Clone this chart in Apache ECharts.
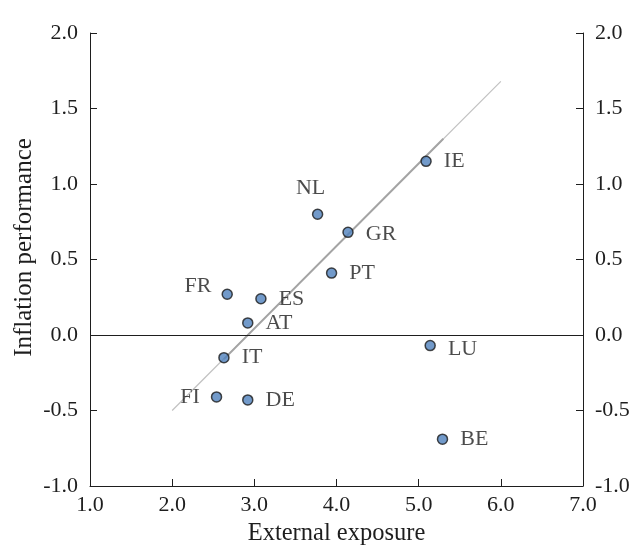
<!DOCTYPE html>
<html>
<head>
<meta charset="utf-8">
<script src="https://cdn.jsdelivr.net/npm/echarts@6/dist/echarts.min.js"></script>
<style>
  html, body { margin: 0; padding: 0; background: #ffffff; }
  #chart { width: 632px; height: 545px; }
</style>
</head>
<body>
<div id="chart"></div>
<script>
// Country codes and their (external exposure, inflation performance) values
const countries = ['NL', 'GR', 'IE', 'PT', 'LU', 'BE', 'FR', 'ES', 'AT', 'IT', 'FI', 'DE'];
const exposure = [3.77, 4.14, 5.09, 3.94, 5.14, 5.29, 2.67, 3.08, 2.92, 2.63, 2.54, 2.92];
const inflation = [0.80, 0.68, 1.15, 0.41, -0.07, -0.69, 0.27, 0.24, 0.08, -0.15, -0.41, -0.43];

// Fitted line: full extent and the emphasised central part
const trendFull = [[2.0, -0.50], [6.0, 1.68]];
const trendCore = [[2.63, -0.16], [5.30, 1.30]];

// Axis settings
const xRange = [1.0, 7.0];
const yRange = [-1.0, 2.0];
const yStep = 0.5;
const xStep = 1.0;

// Where each country's label sits relative to its dot
const labelPlace = {
  NL: { position: 'top', offset: [-7, -1] },
  GR: { position: 'right', offset: [4, 2] },
  IE: { position: 'right', offset: [4, 0] },
  PT: { position: 'right', offset: [4, 0] },
  LU: { position: 'right', offset: [4, 4] },
  BE: { position: 'right', offset: [4, 0] },
  FR: { position: 'left', offset: [-2, -8] },
  ES: { position: 'right', offset: [4, 0] },
  AT: { position: 'right', offset: [4, 0] },
  IT: { position: 'right', offset: [4, 0] },
  FI: { position: 'left', offset: [-3, 0] },
  DE: { position: 'right', offset: [4, 0] }
};

const serif = 'Liberation Serif, Times New Roman, serif';
const ink = '#1e1e1e';

const points = countries.map((c, i) => ({
  name: c,
  value: [exposure[i], inflation[i]],
  label: {
    show: true,
    formatter: c,
    position: labelPlace[c].position,
    offset: labelPlace[c].offset,
    distance: 8,
    fontFamily: serif,
    fontSize: 22,
    color: ink
  }
}));

const yAxisBase = {
  type: 'value',
  min: yRange[0],
  max: yRange[1],
  interval: yStep,
  axisLine: { show: true, lineStyle: { color: ink, width: 1 } },
  axisTick: { show: true, inside: true, length: 7, lineStyle: { color: ink } },
  splitLine: { show: false },
  axisLabel: {
    formatter: v => v.toFixed(1),
    fontFamily: serif,
    fontSize: 22,
    color: ink,
    margin: 12
  }
};

const chart = echarts.init(document.getElementById('chart'), null, { renderer: 'canvas' });
chart.setOption({
  backgroundColor: '#ffffff',
  animation: false,
  grid: { left: 90, right: 49, top: 33, bottom: 59, outerBoundsMode: 'none', containLabel: false },
  xAxis: {
    type: 'value',
    min: xRange[0],
    max: xRange[1],
    interval: xStep,
    name: 'External exposure',
    nameLocation: 'middle',
    nameGap: 35,
    nameMoveOverlap: false,
    nameTextStyle: { fontFamily: serif, fontSize: 24.5, color: ink },
    axisLine: { show: true, onZero: false, lineStyle: { color: ink, width: 1 } },
    axisTick: { show: true, inside: true, length: 7, lineStyle: { color: ink } },
    splitLine: { show: false },
    axisLabel: {
      formatter: v => v.toFixed(1),
      fontFamily: serif,
      fontSize: 22,
      color: ink,
      margin: 8
    }
  },
  yAxis: [
    Object.assign({}, yAxisBase, {
      position: 'left',
      name: 'Inflation performance',
      nameLocation: 'middle',
      nameGap: 53,
      nameMoveOverlap: false,
      nameTextStyle: { fontFamily: serif, fontSize: 25, color: ink, padding: [0, 0, 0, 24] }
    }),
    Object.assign({}, yAxisBase, { position: 'right' })
  ],
  series: [
    {
      type: 'line',
      data: trendFull,
      symbol: 'none',
      lineStyle: { color: '#c0c0c0', width: 1.2 },
      silent: true,
      z: 1,
      markLine: {
        silent: true,
        symbol: ['none', 'none'],
        label: { show: false },
        lineStyle: { color: ink, width: 1, type: 'solid' },
        data: [{ yAxis: 0 }]
      }
    },
    {
      type: 'line',
      data: trendCore,
      symbol: 'none',
      lineStyle: { color: '#a4a4a4', width: 2 },
      silent: true,
      z: 2
    },
    {
      type: 'scatter',
      data: points,
      symbol: 'circle',
      symbolSize: 10,
      itemStyle: { color: '#4f81bd', borderColor: '#1a1a1a', borderWidth: 1.5 },
      z: 5
    }
  ]
});
</script>
</body>
</html>
